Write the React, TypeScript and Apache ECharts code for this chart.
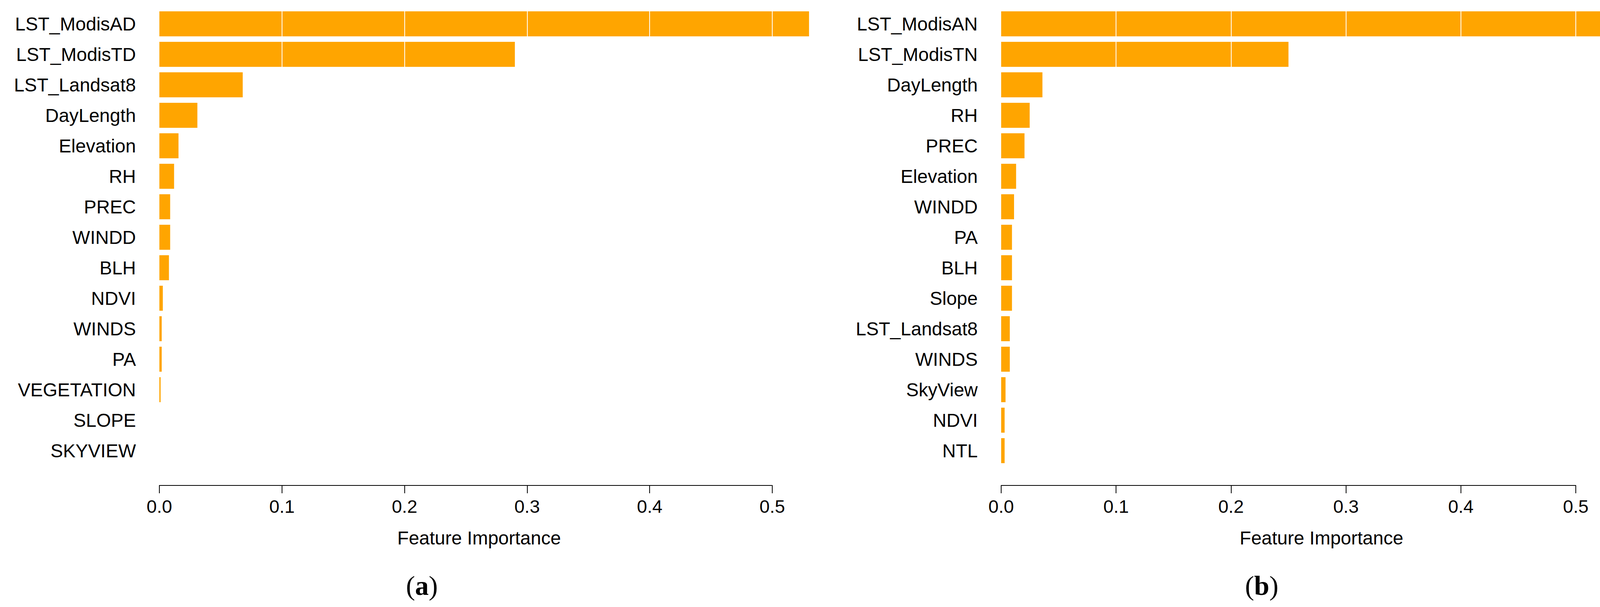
import React, { useEffect, useRef } from "react";
import * as echarts from "echarts";

const catsA = [
  "LST_ModisAD", "LST_ModisTD", "LST_Landsat8", "DayLength", "Elevation", "RH", "PREC",
  "WINDD", "BLH", "NDVI", "WINDS", "PA", "VEGETATION", "SLOPE", "SKYVIEW",
];
const valsA = [0.530, 0.290, 0.068, 0.031, 0.0156, 0.012, 0.0088, 0.0088, 0.0078, 0.0028, 0.0019, 0.0019, 0.001, 0, 0];

const catsB = [
  "LST_ModisAN", "LST_ModisTN", "DayLength", "RH", "PREC", "Elevation", "WINDD", "PA",
  "BLH", "Slope", "LST_Landsat8", "WINDS", "SkyView", "NDVI", "NTL",
];
const valsB = [0.566, 0.250, 0.0359, 0.0248, 0.0203, 0.013, 0.0112, 0.0094, 0.0094, 0.0094, 0.0075, 0.0075, 0.0038, 0.003, 0.003];

const xTicks = [0.1, 0.2, 0.3, 0.4, 0.5];
const xName = "Feature Importance";
const captions = ["a", "b"];

const SANS = "Liberation Sans, Arial, sans-serif";
const SERIF = "Liberation Serif, Times New Roman, serif";

export default function App() {
  const ref = useRef<HTMLDivElement>(null);
  useEffect(() => {
    if (!ref.current) return;
    const chart = echarts.init(ref.current, null, { renderer: "svg" });
    const mkX = (gridIndex: number, padLeft: number) => ({
      type: "value",
      gridIndex,
      min: 0,
      max: 0.5,
      interval: 0.1,
      offset: 50,
      axisLine: { show: true, lineStyle: { color: "#000", width: 2 } },
      axisTick: { show: true, length: 20, lineStyle: { color: "#000", width: 2 } },
      axisLabel: {
        margin: 30,
        color: "#000",
        fontSize: 47,
        fontFamily: SANS,
        formatter: (v: number) => v.toFixed(1),
      },
      splitLine: { show: false },
      name: xName,
      nameLocation: "middle",
      nameGap: 110,
      nameTextStyle: { color: "#000", fontSize: 48, fontFamily: SANS, padding: [0, 0, 0, padLeft] },
    });
    const mkY = (gridIndex: number, cats: string[]) => ({
      type: "category",
      gridIndex,
      data: cats,
      inverse: true,
      axisLine: { show: false },
      axisTick: { show: false },
      axisLabel: { margin: 60, color: "#000", fontSize: 48, fontFamily: SANS },
    });
    const mkS = (idx: number, vals: number[]) => ({
      type: "bar",
      xAxisIndex: idx,
      yAxisIndex: idx,
      data: vals,
      barWidth: 64,
      clip: false,
      itemStyle: { color: "#FFA500" },
      markLine: {
        silent: true,
        symbol: "none",
        label: { show: false },
        lineStyle: { color: "#fff", width: 2, type: "solid" },
        data: xTicks.map((t) => ({ xAxis: t })),
      },
    });
    const capText = (c: string, x: number) => ({
      type: "text",
      x,
      y: 1498,
      style: {
        text: `{n|(}{b|${c}}{n|)}`,
        align: "center",
        verticalAlign: "middle",
        rich: {
          n: { fontSize: 70, fontFamily: SERIF, fill: "#000" },
          b: { fontSize: 70, fontFamily: SERIF, fontWeight: "bold", fill: "#000" },
        },
      },
    });
    chart.setOption({
      animation: false,
      backgroundColor: "#fff",
      grid: [
        { left: 408, top: 22, width: 1569, height: 1170 },
        { left: 2563, top: 22, width: 1471, height: 1170 },
      ],
      xAxis: [mkX(0, 68), mkX(1, 169)],
      yAxis: [mkY(0, catsA), mkY(1, catsB)],
      series: [mkS(0, valsA), mkS(1, valsB)],
      graphic: [capText(captions[0], 1080), capText(captions[1], 3230)],
    });
    return () => chart.dispose();
  }, []);
  return (
    <div
      ref={ref}
      style={{ position: "fixed", left: 0, top: 0, width: 4251, height: 1553, background: "#fff" }}
    />
  );
}
